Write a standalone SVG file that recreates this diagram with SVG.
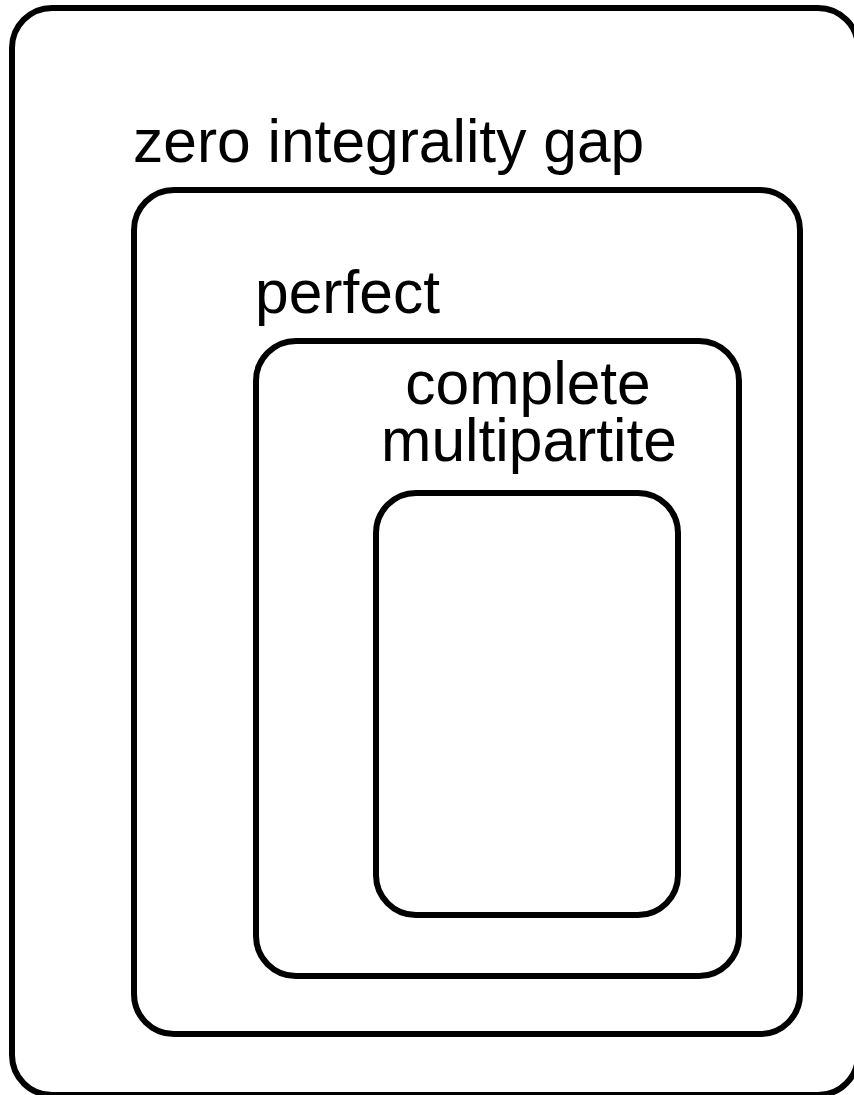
<svg xmlns="http://www.w3.org/2000/svg" width="854" height="1095" viewBox="0 0 854 1095">
  <style>
    .set { fill: none; stroke: #000; stroke-width: 6; }
    .lbl { font-family: "Liberation Sans", Arial, Helvetica, sans-serif; font-size: 60.5px; fill: #000; }
  </style>
  <rect x="0" y="0" width="854" height="1095" fill="#fff"/>
  <g id="zero-integrality-gap">
    <rect class="set" x="12" y="8" width="846" height="1087" rx="40" ry="40"/>
    <text class="lbl" x="133" y="162">zero integrality gap</text>
  </g>
  <g id="perfect">
    <rect class="set" x="134" y="190" width="666" height="844" rx="40" ry="40"/>
    <text class="lbl" x="255" y="313">perfect</text>
  </g>
  <g id="complete-multipartite">
    <rect class="set" x="256" y="341" width="483" height="635" rx="40" ry="40"/>
    <text class="lbl" text-anchor="middle" x="528" y="404">complete</text>
    <text class="lbl" text-anchor="middle" x="529" y="461">multipartite</text>
  </g>
  <g id="innermost">
    <rect class="set" x="376" y="493" width="302" height="422" rx="40" ry="40"/>
  </g>
  <g id="connectors"/>
</svg>
